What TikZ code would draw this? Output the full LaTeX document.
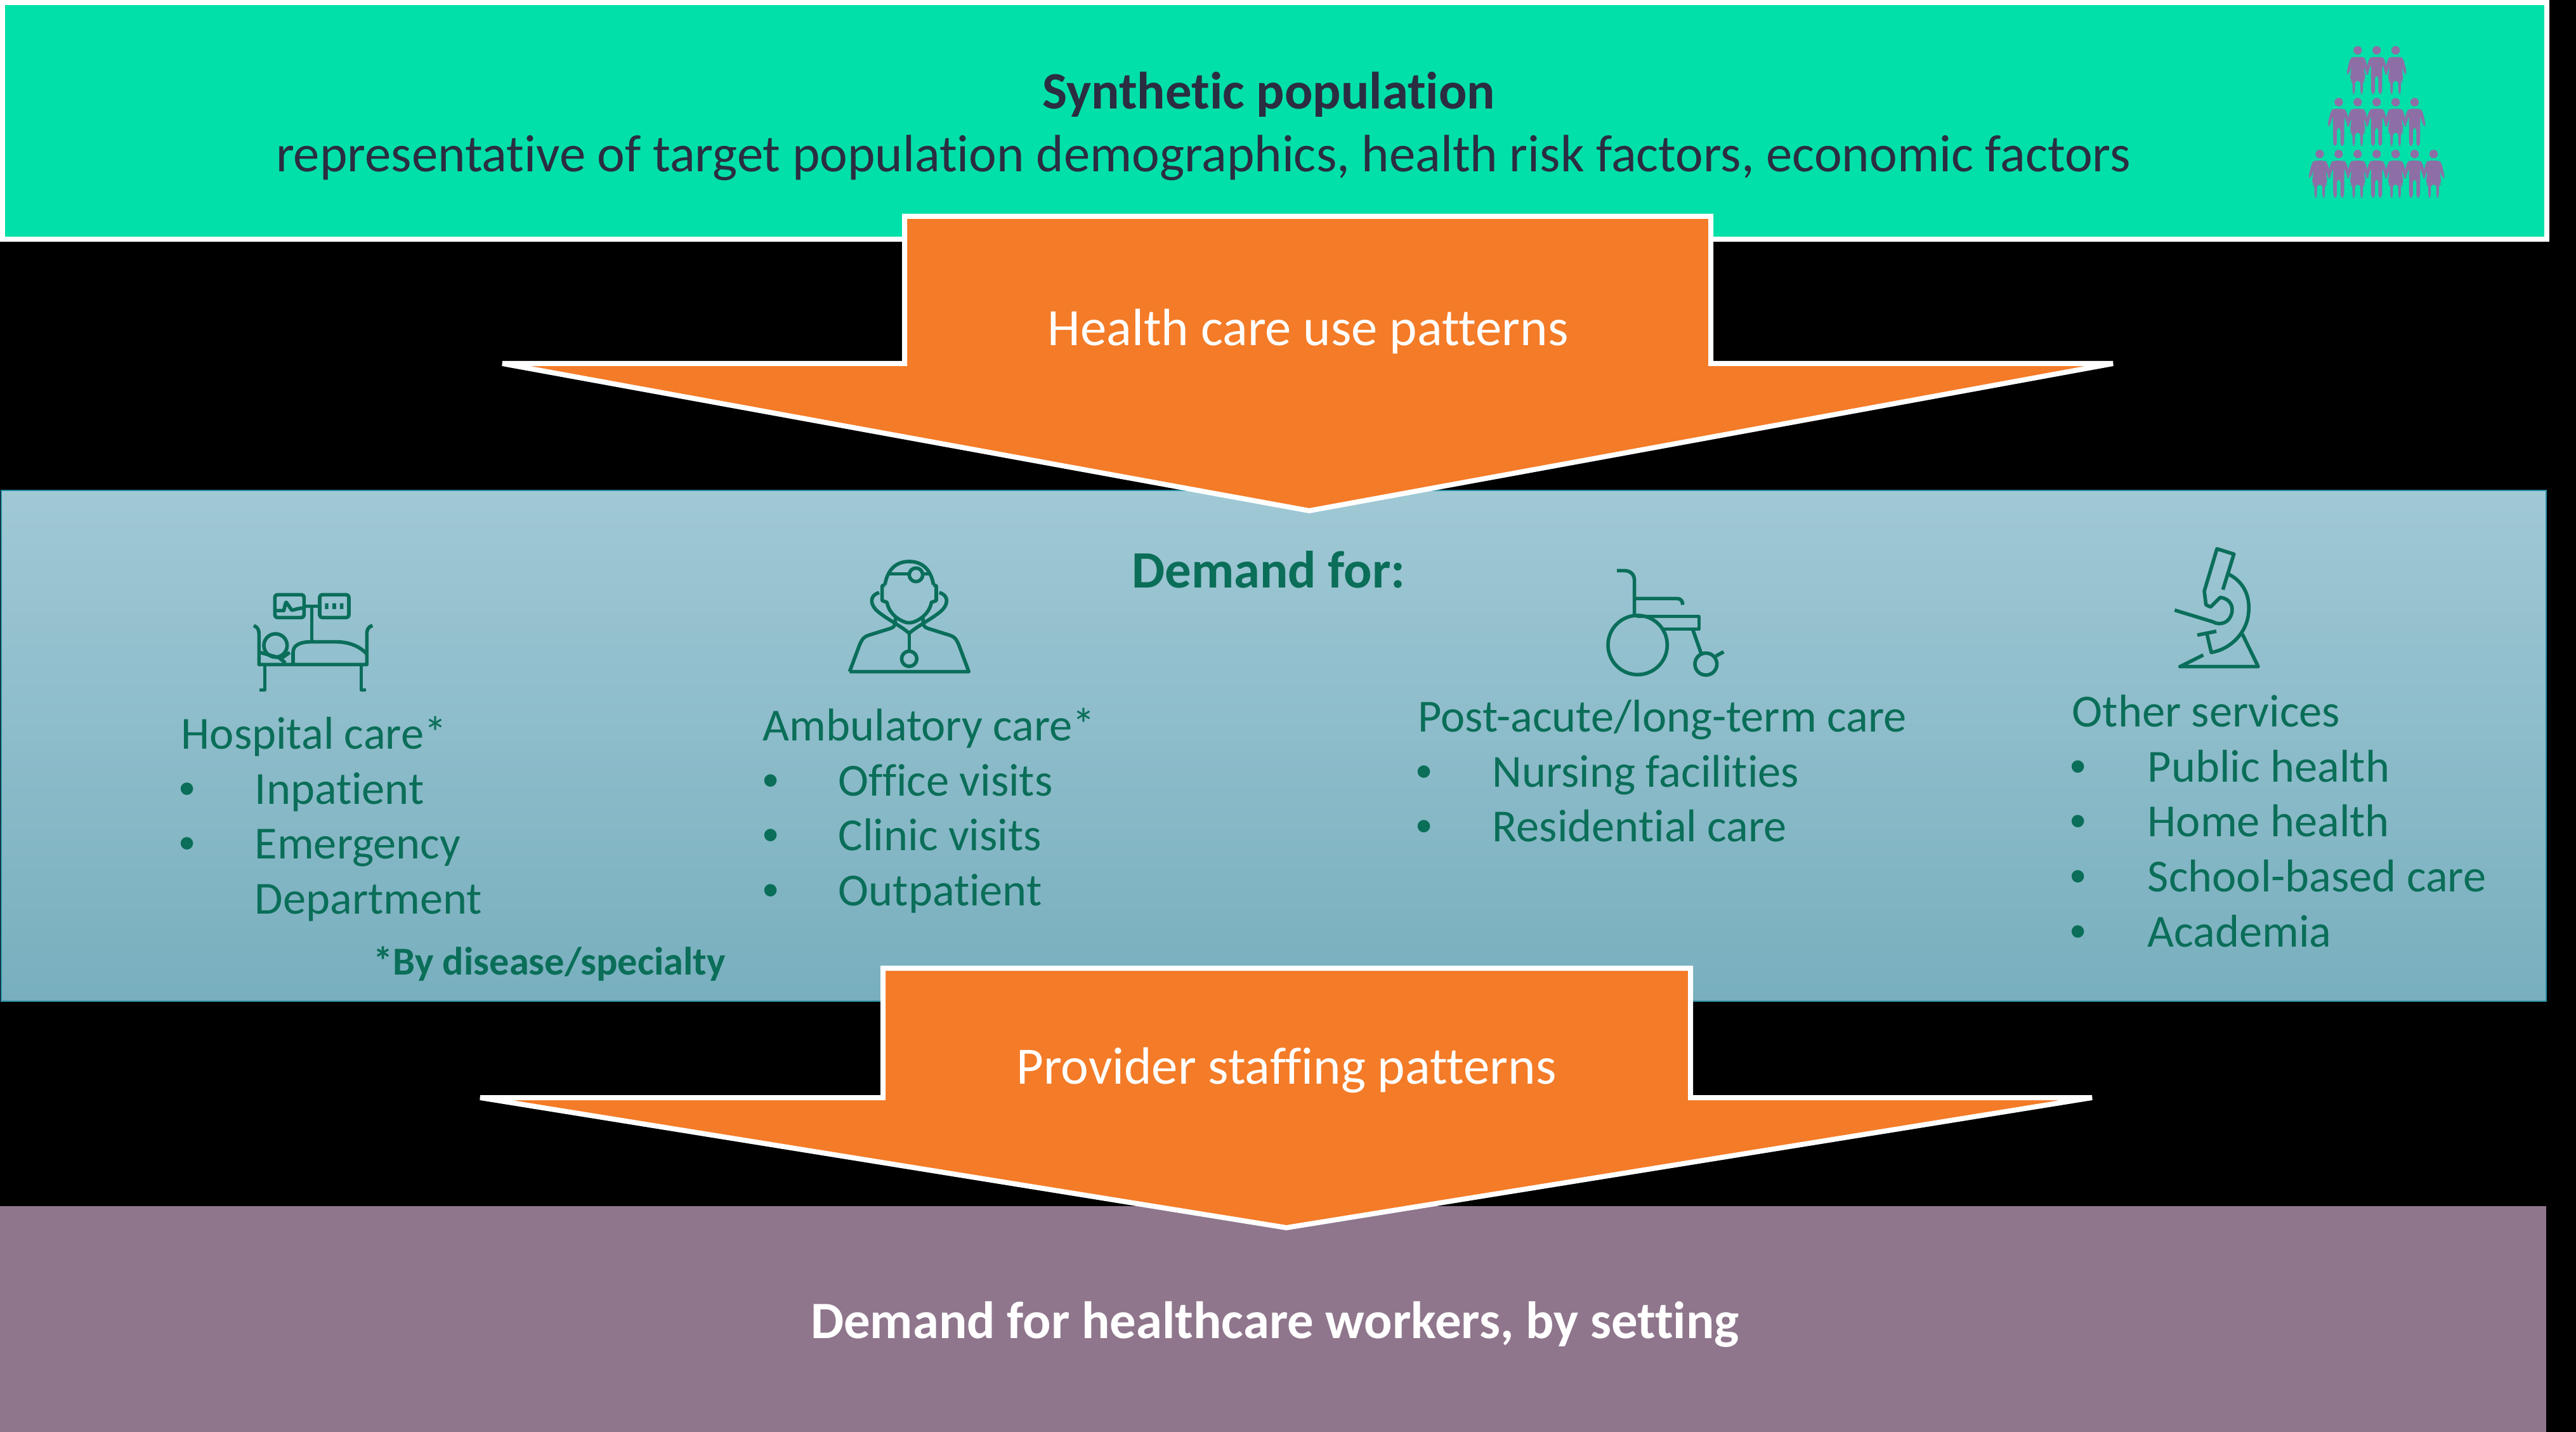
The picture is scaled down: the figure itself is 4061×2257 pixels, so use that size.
\documentclass[tikz,border=0pt]{standalone}
\usepackage{fontspec}
\setmainfont{Carlito}[Ligatures=NoCommon]
\newfontfamily\bulfont{Liberation Sans}
\definecolor{topgreen}{HTML}{00E0A8}
\definecolor{arroworange}{HTML}{F47B27}
\definecolor{peoplepurple}{HTML}{8E6FA5}
\definecolor{bottompurple}{HTML}{8F768C}
\definecolor{darktext}{HTML}{2B2D42}
\definecolor{tealtext}{HTML}{0A6E58}
\definecolor{icongreen}{HTML}{0A6E5A}
\definecolor{midtop}{HTML}{A0C8D5}
\definecolor{midbot}{HTML}{78AFBE}
\definecolor{midedge}{HTML}{2A8FA5}
\tikzset{
  x=0.25pt,y=-0.25pt,
  panel/.style={line width=2.1pt,draw=white,line join=miter},
  bigarrow/.style={fill=arroworange,draw=white,line width=2pt,line join=miter,miter limit=4},
  body/.style={inner sep=0pt,anchor=base west,text=tealtext,font=\fontsize{18.1}{18}\selectfont},
  bul/.style={inner sep=0pt,anchor=base west,text=tealtext,font=\fontsize{18}{18}\selectfont\bulfont},
  lab/.style={inner sep=0pt,anchor=base,font=\fontsize{20.7}{21}\selectfont},
  icon/.style={draw=icongreen,line width=1.4pt,line cap=butt,line join=round},
  man/.pic={\fill[peoplepurple] (0,0) circle (6.7);
    \fill[peoplepurple,rounded corners=1.2pt] (0,10.5) -- (8,10.5) -- (12,13) -- (18,37) -- (14,38.5) -- (9,21) -- (8.5,69) -- (2.7,69) -- (2.7,40) -- (-2.7,40) -- (-2.7,69) -- (-8.5,69) -- (-9,21) -- (-14,38.5) -- (-18,37) -- (-12,13) -- (-8,10.5) -- cycle;},
  woman/.pic={\fill[peoplepurple] (0,0) circle (6.7);
    \fill[peoplepurple,rounded corners=1.2pt] (0,10.5) -- (8,10.5) -- (12,13) -- (18,37) -- (14,38.5) -- (9.5,24) -- (12.3,48) -- (8.3,48) -- (8.3,69) -- (4.3,69) -- (4.3,48) -- (-4.3,48) -- (-4.3,69) -- (-8.3,69) -- (-8.3,48) -- (-12.3,48) -- (-9.5,24) -- (-14,38.5) -- (-18,37) -- (-12,13) -- (-8,10.5) -- cycle;}
}
\begin{document}
\begin{tikzpicture}
\useasboundingbox (0,0) rectangle (4061,2257);
\fill[black] (0,0) rectangle (4061,2257);
% panels
\draw[panel,fill=topgreen] (4,4) rectangle (4015,377);
\draw[line width=0.6pt,draw=midedge,top color=midtop,bottom color=midbot] (2,773) rectangle (4014,1578);
\fill[bottompurple] (0,1901) rectangle (4014,2257);
% arrows
\draw[bigarrow] (1426,341) -- (2697,341) -- (2697,573) -- (3331,573) -- (2064,805) -- (792,573) -- (1426,573) -- cycle;
\draw[bigarrow] (1392,1526) -- (2665,1526) -- (2665,1730) -- (3298,1730) -- (2028,1935) -- (757,1730) -- (1392,1730) -- cycle;
% top text
\node[lab,text=darktext] (syn) at (2000,172) {\textbf{Synthetic population}};
\node[lab,text=darktext] (rep) at (1897,271) {representative of target population demographics, health risk factors, economic factors};
\node[lab,text=white] (hc) at (2062,545) {Health care use patterns};
\node[lab,text=white] (prov) at (2028,1708) {Provider staffing patterns};
\node[lab,text=white] (dhw) at (2010,2109) {\textbf{Demand for healthcare workers, by setting}};
\node[lab,text=tealtext] (dem) at (2000,926) {\textbf{Demand for:}};
% hospital
\node[body] (h0) at (285,1180) {Hospital care*};
\node[bul] (hb1) at (282,1267) {•}; \node[body] (h1) at (401,1267) {Inpatient};
\node[bul] (hb2) at (282,1353) {•}; \node[body] (h2) at (401,1353) {Emergency};
\node[body] (h3) at (401,1440) {Department};
\node[body,font=\fontsize{15.6}{15}\selectfont\bfseries] (h4) at (588,1536) {*By disease/specialty};
% ambulatory
\node[body] (a0) at (1202,1167) {Ambulatory care*};
\node[bul] (ab1) at (1202,1254) {•}; \node[body] (a1) at (1321,1254) {Office visits};
\node[bul] (ab2) at (1202,1340) {•}; \node[body] (a2) at (1321,1340) {Clinic visits};
\node[bul] (ab3) at (1202,1427) {•}; \node[body] (a3) at (1321,1427) {Outpatient};
% post-acute
\node[body] (p0) at (2235,1153) {Post-acute/long-term care};
\node[bul] (pb1) at (2232,1240) {•}; \node[body] (p1) at (2352,1240) {Nursing facilities};
\node[bul] (pb2) at (2232,1326) {•}; \node[body] (p2) at (2352,1326) {Residential care};
% other
\node[body] (o0) at (3266,1145) {Other services};
\node[bul] (ob1) at (3263,1232) {•}; \node[body] (o1) at (3385,1232) {Public health};
\node[bul] (ob2) at (3263,1318) {•}; \node[body] (o2) at (3385,1318) {Home health};
\node[bul] (ob3) at (3263,1405) {•}; \node[body] (o3) at (3385,1405) {School-based care};
\node[bul] (ob4) at (3263,1492) {•}; \node[body] (o4) at (3385,1492) {Academia};
% people
\foreach \cx/\kind in {-1/woman,0/man,1/woman} \pic at ({3746.7+\cx*29.93},79.3) {\kind};
\foreach \cx/\kind in {-2/man,-1/woman,0/man,1/woman,2/man} \pic at ({3746.7+\cx*29.93},161) {\kind};
\foreach \cx/\kind in {-3/woman,-2/man,-1/woman,0/man,1/woman,2/man,3/woman} \pic at ({3746.7+\cx*29.93},242.7) {\kind};
% bed icon
\begin{scope}[shift={(360,900)},x=0.08333pt,y=-0.08333pt,icon]
\draw[rounded corners=1pt] (220,112) rectangle (358,220);
\draw[rounded corners=1pt] (432,112) rectangle (570,220);
\draw (228,187) -- (262,187) .. controls (268,170) and (268,150) .. (274,148) -- (300,185) .. controls (310,185) and (320,178) .. (352,175);
\fill[icongreen,draw=none] (457,153) rectangle (473,180) (492,153) rectangle (510,180) (528,153) rectangle (544,180);
\draw (358,167) -- (432,167) (395,167) -- (395,335);
\draw (120,258) .. controls (140,265) and (145,280) .. (145,300) -- (145,442) -- (655,442) -- (655,300) .. controls (655,278) and (660,264) .. (682,258);
\draw (172,442) -- (172,562) -- (147,562) (628,442) -- (628,562) -- (652,562);
\draw (306,442) -- (306,385) .. controls (306,350) and (340,335) .. (390,335) -- (510,335) .. controls (570,335) and (620,355) .. (655,392);
\draw (223,352) circle (55);
\draw (150,385) -- (240,410) -- (270,435) (290,385) -- (255,410);
\end{scope}
% doctor icon
\begin{scope}[shift={(1300,860)},x=0.08333pt,y=-0.08333pt,icon]
\draw (118,596) -- (682,596) -- (635,470) .. controls (620,435) and (610,430) .. (590,423) -- (490,392) .. controls (470,385) and (465,380) .. (465,340);
\draw (118,596) -- (165,470) .. controls (180,435) and (190,430) .. (210,423) -- (310,392) .. controls (330,385) and (335,380) .. (335,340);
\draw (285,185) .. controls (300,100) and (350,75) .. (400,75) .. controls (450,75) and (500,100) .. (515,185) (285,185) -- (272,190) -- (272,260) -- (295,268) .. controls (305,330) and (370,365) .. (400,365) .. controls (430,365) and (495,330) .. (505,268) -- (528,260) -- (528,190) -- (515,185);
\draw (300,133) -- (398,133) (466,133) -- (505,133);
\draw (432,138) circle (32);
\draw (258,222) .. controls (210,235) and (215,280) .. (250,310) .. controls (290,345) and (370,385) .. (400,415) .. controls (430,385) and (510,345) .. (550,310) .. controls (585,280) and (590,235) .. (542,222);
\draw (400,415) -- (400,497);
\draw (400,535) circle (36);
\end{scope}
% wheelchair icon
\begin{scope}[shift={(2500,870)},x=0.08333pt,y=-0.08333pt,icon]
\draw (147,88) -- (180,88) .. controls (215,88) and (230,110) .. (230,135) -- (230,300);
\draw (230,220) -- (430,220) .. controls (450,220) and (458,232) .. (458,250);
\draw (245,440) circle (140);
\draw (240,305) -- (535,305) -- (535,365) -- (370,365);
\draw (507,370) -- (545,478);
\draw (568,530) circle (52);
\draw (615,492) -- (652,472);
\end{scope}
% microscope icon
\begin{scope}[shift={(3400,840)},x=0.08333pt,y=-0.08333pt,icon]
\draw (313,268) -- (365,100) -- (285,75) -- (225,275) -- (233,340) -- (255,350) -- (300,305) .. controls (350,310) and (362,350) .. (355,378) .. controls (345,425) and (300,440) .. (265,420) -- (85,365);
\draw (340,195) .. controls (420,235) and (440,310) .. (435,370) .. controls (430,470) and (350,550) .. (258,565) -- (238,480);
\draw (192,483) -- (282,465);
\draw (220,577) -- (110,632) -- (480,632) -- (405,478);
\end{scope}
\end{tikzpicture}
\end{document}
